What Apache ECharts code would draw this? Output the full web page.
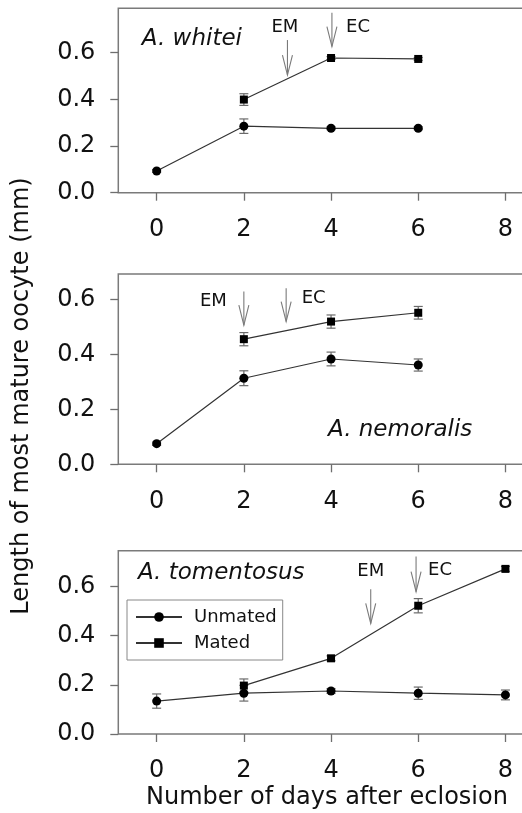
<!DOCTYPE html>
<html>
<head>
<meta charset="utf-8">
<script src="https://cdn.jsdelivr.net/npm/echarts@6/dist/echarts.min.js"></script>
<style>
html,body{margin:0;padding:0;background:#fff;}
#c{width:522px;height:813px;}
</style>
</head>
<body>
<div id="c"></div>
<script>
// ---- data ----
const days = [0, 2, 4, 6, 8];
const xTicks = [0, 2, 4, 6, 8];
const yTicks = [0, 0.2, 0.4, 0.6];

const whiteiUnmated = [0.093, 0.285, 0.276, 0.276, null];
const whiteiUnmatedSE = [0.006, 0.031, 0.006, 0.006, null];
const whiteiMated = [null, 0.399, 0.577, 0.573, null];
const whiteiMatedSE = [null, 0.025, 0.006, 0.006, null];

const nemoralisUnmated = [0.075, 0.313, 0.383, 0.361, null];
const nemoralisUnmatedSE = [0.006, 0.027, 0.025, 0.022, null];
const nemoralisMated = [null, 0.455, 0.519, 0.551, null];
const nemoralisMatedSE = [null, 0.024, 0.024, 0.023, null];

const tomentosusUnmated = [0.134, 0.166, 0.175, 0.166, 0.159];
const tomentosusUnmatedSE = [0.029, 0.032, 0.010, 0.025, 0.020];
const tomentosusMated = [null, 0.197, 0.308, 0.522, 0.672];
const tomentosusMatedSE = [null, 0.027, 0.010, 0.029, 0.010];

// arrows: [day, top value, tip value]
const whiteiArrows = [[3.0, 0.654, 0.504], [4.02, 0.771, 0.626]];
const nemoralisArrows = [[2.0, 0.628, 0.506], [2.97, 0.640, 0.519]];
const tomentosusArrows = [[4.91, 0.589, 0.450], [5.95, 0.722, 0.579]];
// arrow labels: [day, value]
const arrowLabelNames = ['EM', 'EC'];
const whiteiArrowLabels = [[2.94, 0.71], [4.62, 0.71]];
const nemoralisArrowLabels = [[1.30, 0.591], [3.60, 0.604]];
const tomentosusArrowLabels = [[4.91, 0.661], [6.50, 0.668]];

const speciesNames = ['A. whitei', 'A. nemoralis', 'A. tomentosus'];
const speciesPos = [[-0.34, 0.659], [3.93, 0.125], [-0.43, 0.657]];
const yMax = [0.79, 0.692, 0.746];

const xTitle = 'Number of days after eclosion';
const yTitle = 'Length of most mature oocyte (mm)';
const seriesNames = ['Unmated', 'Mated'];

// ---- layout / style ----
const FONT = 'DejaVu Sans';
const gridTops = [8.3, 274, 550.7];
const gridHeights = [184.4, 190.3, 183.3];
const GRID_LEFT = 118.3;
const GRID_WIDTH = 425.5;
const BORDER = '#7a7a7a';
const TICK = '#6e6e6e';

const panels = [
  {u: whiteiUnmated, uSE: whiteiUnmatedSE, m: whiteiMated, mSE: whiteiMatedSE, arrows: whiteiArrows, labels: whiteiArrowLabels},
  {u: nemoralisUnmated, uSE: nemoralisUnmatedSE, m: nemoralisMated, mSE: nemoralisMatedSE, arrows: nemoralisArrows, labels: nemoralisArrowLabels},
  {u: tomentosusUnmated, uSE: tomentosusUnmatedSE, m: tomentosusMated, mSE: tomentosusMatedSE, arrows: tomentosusArrows, labels: tomentosusArrowLabels}
];

function pairs(vals) {
  const out = [];
  vals.forEach((v, i) => { if (v != null) out.push([days[i], v]); });
  return out;
}
function errs(vals, se) {
  const out = [];
  vals.forEach((v, i) => { if (v != null && se[i] != null) out.push([days[i], v - se[i], v + se[i]]); });
  return out;
}

const grids = [], xAxes = [], yAxes = [], series = [];
panels.forEach((p, k) => {
  grids.push({left: GRID_LEFT, top: gridTops[k], width: GRID_WIDTH, height: gridHeights[k],
    outerBoundsMode: 'none', containLabel: false,
    show: true, borderColor: BORDER, borderWidth: 1.5, backgroundColor: 'transparent'});
  xAxes.push({type: 'value', gridIndex: k, min: -0.88, max: 8.88,
    axisLine: {show: false, onZero: false}, splitLine: {show: false},
    axisTick: {show: true, length: 8, lineStyle: {color: TICK, width: 1.3}, customValues: xTicks},
    axisLabel: {customValues: xTicks, margin: 25, fontFamily: FONT, fontSize: 24, color: '#111', lineHeight: 24}});
  yAxes.push({type: 'value', gridIndex: k, min: 0, max: yMax[k],
    axisLine: {show: false, onZero: false}, splitLine: {show: false},
    axisTick: {show: true, length: 8, lineStyle: {color: TICK, width: 1.3}, customValues: yTicks},
    axisLabel: {customValues: yTicks, margin: 23, fontFamily: FONT, fontSize: 24, color: '#111',
      formatter: v => Number(v).toFixed(1)}});

  [[p.u, p.uSE], [p.m, p.mSE]].forEach(([v, se]) => {
    series.push({type: 'custom', xAxisIndex: k, yAxisIndex: k, z: 2, silent: true,
      data: errs(v, se),
      renderItem: (params, api) => {
        const x = api.value(0);
        const a = api.coord([x, api.value(1)]);
        const b = api.coord([x, api.value(2)]);
        const w = 4.5;
        const st = {stroke: '#6a6a6a', lineWidth: 1.2};
        return {type: 'group', children: [
          {type: 'line', shape: {x1: a[0], y1: a[1], x2: b[0], y2: b[1]}, style: st},
          {type: 'line', shape: {x1: a[0] - w, y1: a[1], x2: a[0] + w, y2: a[1]}, style: st},
          {type: 'line', shape: {x1: b[0] - w, y1: b[1], x2: b[0] + w, y2: b[1]}, style: st}
        ]};
      }});
  });

  series.push({type: 'line', name: seriesNames[0], xAxisIndex: k, yAxisIndex: k, z: 3,
    data: pairs(p.u), symbol: 'circle', symbolSize: 9,
    itemStyle: {color: '#000'}, lineStyle: {color: '#333', width: 1.2}});
  series.push({type: 'line', name: seriesNames[1], xAxisIndex: k, yAxisIndex: k, z: 3,
    data: pairs(p.m), symbol: 'rect', symbolSize: 8,
    itemStyle: {color: '#000'}, lineStyle: {color: '#333', width: 1.2}});

  series.push({type: 'custom', xAxisIndex: k, yAxisIndex: k, z: 4, silent: true,
    data: p.arrows,
    renderItem: (params, api) => {
      const x = api.value(0);
      const t = api.coord([x, api.value(1)]);
      const b = api.coord([x, api.value(2)]);
      const st = {stroke: '#7a7a7a', lineWidth: 1.1, fill: null};
      return {type: 'group', children: [
        {type: 'line', shape: {x1: t[0], y1: t[1], x2: b[0], y2: b[1]}, style: st},
        {type: 'polyline', shape: {points: [[b[0] - 5, b[1] - 20], [b[0], b[1]], [b[0] + 5, b[1] - 20]]}, style: st}
      ]};
    }});
  series.push({type: 'custom', xAxisIndex: k, yAxisIndex: k, z: 4, silent: true,
    data: p.labels,
    renderItem: (params, api) => {
      const c = api.coord([api.value(0), api.value(1)]);
      return {type: 'text', x: c[0], y: c[1],
        style: {text: arrowLabelNames[params.dataIndex], fontFamily: FONT, fontSize: 18, fill: '#111',
          align: 'center', verticalAlign: 'middle'}};
    }});
  series.push({type: 'custom', xAxisIndex: k, yAxisIndex: k, z: 4, silent: true,
    data: [speciesPos[k]],
    renderItem: (params, api) => {
      const c = api.coord([api.value(0), api.value(1)]);
      return {type: 'text', x: c[0], y: c[1],
        style: {text: speciesNames[k], fontFamily: FONT, fontStyle: 'italic', fontSize: 23, fill: '#111',
          align: 'left', verticalAlign: 'middle'}};
    }});
});

const chart = echarts.init(document.getElementById('c'), null, {renderer: 'canvas'});
chart.setOption({
  animation: false,
  backgroundColor: '#fff',
  grid: grids,
  xAxis: xAxes,
  yAxis: yAxes,
  legend: {
    data: seriesNames, orient: 'vertical', left: 127, top: 600,
    borderColor: '#888', borderWidth: 1, padding: [8, 6, 8, 8], itemGap: 8,
    itemWidth: 46, itemHeight: 12,
    textStyle: {fontFamily: FONT, fontSize: 18, color: '#111', padding: [0, 0, 0, 7]},
    selectedMode: false
  },
  series: series,
  graphic: [
    {type: 'text', x: 22, y: 396, rotation: Math.PI / 2,
      style: {text: yTitle, fontFamily: FONT, fontSize: 24, fill: '#111', align: 'center', verticalAlign: 'middle'}},
    {type: 'text', x: 327, y: 798,
      style: {text: xTitle, fontFamily: FONT, fontSize: 24, fill: '#111', align: 'center', verticalAlign: 'middle'}}
  ]
});
</script>
</body>
</html>
